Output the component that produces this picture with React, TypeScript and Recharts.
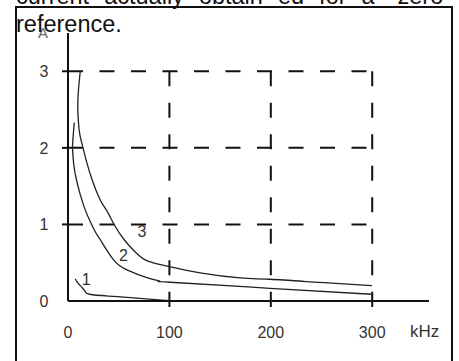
import React from 'react';
import { LineChart, Line, XAxis, YAxis, ReferenceLine, ReferenceDot } from 'recharts';

const freqTicks = [0, 100, 200, 300];
const currentTicks = [0, 1, 2, 3];
const gridFreq = [100, 200, 300];
const gridCurrent = [1, 2, 3];

const curve1Freq = [7.2, 10.1, 13.8, 17.0, 21.3, 40, 58.1, 80, 99];
const curve1Current = [0.288, 0.229, 0.177, 0.125, 0.088, 0.064, 0.048, 0.025, 0.005];

const curve2Freq = [6.2, 4.8, 4.5, 5.7, 8.2, 12.1, 17.0, 22.0, 26.9, 31.8, 44.9, 58.1, 77.8, 90.9, 100.7, 199.2, 299.4];
const curve2Current = [2.33, 2.11, 1.98, 1.78, 1.59, 1.39, 1.19, 1.035, 0.904, 0.8, 0.537, 0.406, 0.305, 0.256, 0.245, 0.166, 0.088];

const curve3Freq = [12.1, 10.4, 9.65, 10.1, 11.6, 14.8, 18.5, 23.6, 31.8, 38.7, 45.6, 55.4, 66.3, 76.1, 87.9, 100.7, 130.3, 169.7, 199.2, 248.5, 299.7];
const curve3Current = [3.0, 2.77, 2.57, 2.37, 2.18, 2.0, 1.81, 1.59, 1.32, 1.17, 0.996, 0.8, 0.64, 0.537, 0.485, 0.446, 0.367, 0.301, 0.284, 0.242, 0.2];

const curveLabels = ['1', '2', '3'];
const labelFreq = [18.0, 54.8, 72.9];
const labelCurrent = [0.284, 0.596, 0.904];

const zip = (f: number[], a: number[]) => f.map((v, i) => ({ f: v, a: a[i] }));
const curves = [zip(curve1Freq, curve1Current), zip(curve2Freq, curve2Current), zip(curve3Freq, curve3Current)];

const FONT = '"Liberation Sans", Arial, Helvetica, sans-serif';
const X_TICK_SIZE = 6;
const X_TICK_MARGIN = 19.5;
const Y_TICK_SIZE = 6;
const Y_TICK_MARGIN = 13.5;
const DASH = '15 16.5';

const XTick = (props: any) => {
  const { x, y, payload } = props;
  const axisY = y - X_TICK_SIZE - X_TICK_MARGIN;
  return (
    <g>
      {payload.value !== 0 && (
        <line x1={x} x2={x} y1={axisY} y2={axisY + X_TICK_SIZE} stroke="#111" strokeWidth={2} />
      )}
      <text x={x} y={y} dy="0.71em" textAnchor="middle" fontSize={16} fill="#333" fontFamily={FONT}>
        {payload.value}
      </text>
    </g>
  );
};

const YTick = (props: any) => {
  const { x, y, payload } = props;
  return (
    <g>
      {payload.value !== 0 && (
        <line x1={x + Y_TICK_MARGIN} x2={x + Y_TICK_MARGIN + Y_TICK_SIZE} y1={y} y2={y} stroke="#111" strokeWidth={2} />
      )}
      <text x={x} y={y} dy="0.355em" textAnchor="end" fontSize={16} fill="#333" fontFamily={FONT}>
        {payload.value}
      </text>
    </g>
  );
};

const UnitA = (props: any) => {
  const vb = props.viewBox || {};
  return (
    <text x={vb.x + vb.width - 25} y={vb.y} dy="0.355em" textAnchor="middle" fontSize={15} fill="#666" fontFamily={FONT}>
      A
    </text>
  );
};

export default function App() {
  return (
    <div style={{ position: 'absolute', left: 0, top: 0, width: 459, height: 361, background: '#fff', overflow: 'hidden' }}>
      <LineChart width={459} height={361} margin={{ top: 33, right: 30, left: 0, bottom: 0 }}>
        <XAxis
          type="number"
          dataKey="f"
          domain={[0, 356]}
          ticks={freqTicks}
          tick={<XTick />}
          tickLine={false}
          tickSize={X_TICK_SIZE}
          tickMargin={X_TICK_MARGIN}
          height={60}
          axisLine={{ stroke: '#111', strokeWidth: 2 }}
          allowDataOverflow
          label={{ value: 'kHz', position: 'right', offset: -19, fontSize: 17, fill: '#333', fontFamily: FONT }}
        />
        <YAxis
          type="number"
          dataKey="a"
          domain={[0, 3.5]}
          ticks={currentTicks}
          tick={<YTick />}
          tickLine={false}
          tickSize={Y_TICK_SIZE}
          tickMargin={Y_TICK_MARGIN}
          width={68}
          axisLine={{ stroke: '#111', strokeWidth: 2 }}
          allowDataOverflow
          label={<UnitA />}
        />
        {gridCurrent.map((v) => (
          <ReferenceLine
            key={'h' + v}
            segment={[{ x: 0, y: v }, { x: gridFreq[gridFreq.length - 1], y: v }]}
            stroke="#111"
            strokeWidth={2}
            strokeDasharray={DASH}
          />
        ))}
        {gridFreq.map((v) => (
          <ReferenceLine
            key={'v' + v}
            segment={[{ x: v, y: gridCurrent[gridCurrent.length - 1] }, { x: v, y: 0 }]}
            stroke="#111"
            strokeWidth={2}
            strokeDasharray={DASH}
          />
        ))}
        {curves.map((d, i) => (
          <Line
            key={'c' + i}
            data={d}
            dataKey="a"
            type="natural"
            stroke="#222"
            strokeWidth={1.3}
            dot={false}
            activeDot={false}
            isAnimationActive={false}
          />
        ))}
        {curveLabels.map((t, i) => (
          <ReferenceDot
            key={'l' + t}
            x={labelFreq[i]}
            y={labelCurrent[i]}
            r={0}
            fill="none"
            stroke="none"
            label={{ value: t, position: 'center', fontSize: 16, fill: '#333', fontFamily: FONT }}
          />
        ))}
      </LineChart>
      <svg width={459} height={361} style={{ position: 'absolute', left: 0, top: 0, pointerEvents: 'none' }}>
        <path d="M16,361 V7 H452 V361" fill="none" stroke="#111" strokeWidth={2} />
        <text x={16} y={3.5} fontSize={23.5} fill="#111" fontFamily={FONT} style={{ wordSpacing: 8.5 }}>
          current actually obtain ed for a “zero
        </text>
        <text x={16} y={32} fontSize={23.5} fill="#111" fontFamily={FONT}>
          reference.
        </text>
      </svg>
    </div>
  );
}
